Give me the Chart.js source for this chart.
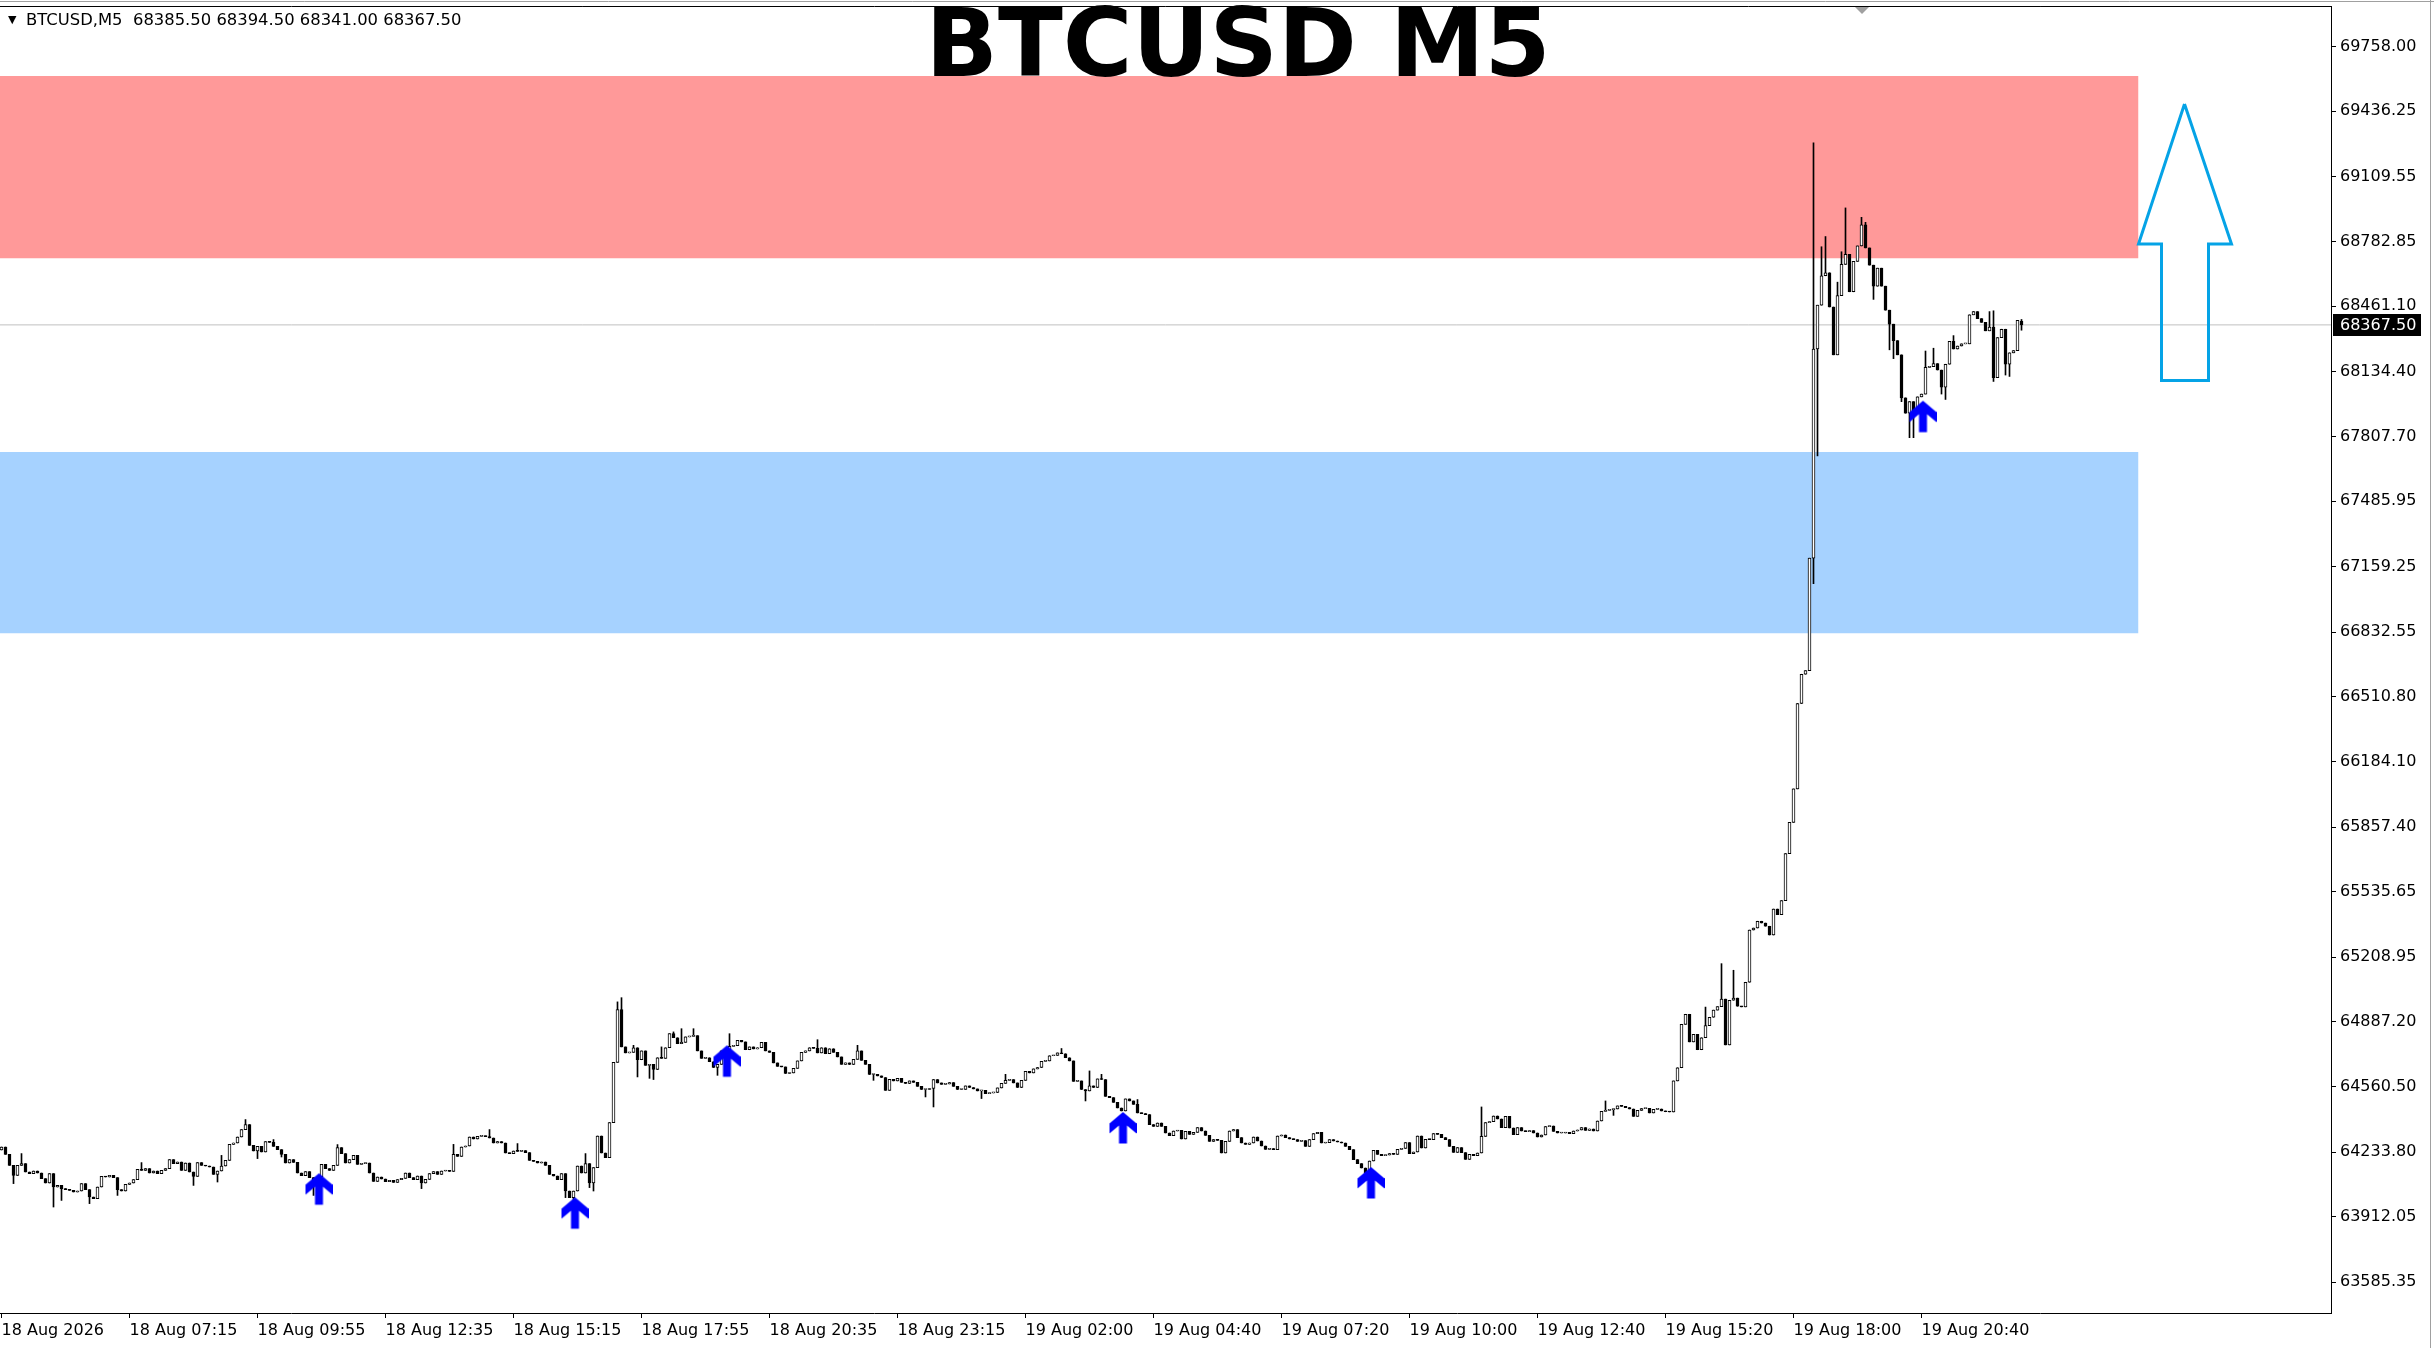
<!DOCTYPE html>
<html>
<head>
<meta charset="utf-8">
<title>BTCUSD M5</title>
<script src="https://cdn.jsdelivr.net/npm/chart.js@4.4.1/dist/chart.umd.min.js"></script>
<style>
  html, body { margin: 0; padding: 0; background: #fff; overflow: hidden; }
  #wrap { width: 2434px; height: 1348px; }
</style>
</head>
<body>
<div id="wrap"><canvas id="chart" width="2434" height="1348"></canvas></div>
<script>
Chart.defaults.font.family = "'DejaVu Sans', Verdana, sans-serif";
Chart.defaults.font.size = 16;
Chart.defaults.color = '#000';

const symbol = 'BTCUSD';
const timeframe = 'M5';

// ---- M5 closes, one per bar (bar 0 = 18 Aug 04:35) ----
const closes = [
  64260,64223,64168,64118,64168,64177,64135,64127,64140,64130,64102,64080,64127,64060,64068,64052,64047,64043,64035,64040,
  64077,64047,64010,64002,64060,64113,64110,64118,64107,64047,64040,64073,64080,64097,64148,64143,64152,64130,64140,64127,
  64143,64152,64197,64177,64185,64143,64180,64135,64113,64182,64168,64165,64160,64123,64140,64165,64193,64273,64280,64310,
  64347,64372,64268,64240,64263,64235,64287,64283,64263,64247,64223,64180,64197,64183,64130,64117,64137,64107,64090,64110,
  64173,64152,64143,64168,64257,64227,64180,64197,64218,64173,64177,64180,64130,64088,64110,64100,64087,64093,64083,64097,
  64103,64130,64107,64097,64115,64080,64098,64127,64137,64123,64140,64143,64138,64223,64213,64260,64265,64310,64300,64313,
  64315,64312,64305,64280,64287,64280,64230,64227,64240,64238,64242,64232,64193,64188,64180,64185,64168,64123,64115,64097,
  64127,64040,64007,64040,64165,64130,64177,64080,64157,64315,64230,64207,64382,64683,64946,64760,64730,64733,64756,64696,
  64740,64668,64673,64647,64706,64703,64756,64826,64806,64776,64783,64810,64813,64816,64740,64703,64706,64686,64657,64673,
  64740,64746,64763,64766,64793,64785,64746,64760,64750,64756,64783,64740,64733,64680,64663,64660,64627,64630,64653,64690,
  64733,64740,64756,64753,64730,64756,64726,64751,64733,64710,64673,64680,64672,64698,64740,64693,64673,64622,64623,64615,
  64607,64543,64598,64590,64603,64583,64577,64590,64583,64563,64547,64547,64552,64597,64580,64573,64575,64582,64563,64547,
  64548,64565,64557,64550,64540,64543,64527,64530,64532,64555,64578,64593,64597,64580,64557,64593,64638,64630,64650,64657,
  64688,64690,64716,64718,64730,64726,64706,64690,64588,64590,64547,64540,64565,64557,64600,64597,64513,64507,64483,64455,
  64440,64500,64490,64473,64430,64427,64422,64372,64363,64380,64363,64330,64317,64340,64343,64300,64338,64323,64333,64357,
  64340,64318,64288,64297,64293,64230,64288,64340,64347,64307,64280,64273,64280,64310,64290,64265,64248,64252,64247,64315,
  64320,64307,64300,64297,64288,64292,64263,64297,64327,64333,64280,64282,64297,64290,64285,64280,64263,64247,64197,64177,
  64155,64130,64190,64243,64223,64217,64220,64227,64223,64248,64253,64282,64227,64235,64315,64255,64298,64297,64327,64323,
  64307,64297,64263,64233,64257,64232,64198,64223,64217,64230,64313,64382,64387,64415,64400,64357,64413,64355,64322,64357,
  64340,64337,64342,64330,64310,64320,64362,64365,64338,64330,64330,64333,64327,64340,64345,64357,64343,64350,64340,64390,
  64438,64443,64447,64450,64465,64463,64457,64450,64413,64443,64452,64453,64430,64448,64450,64440,64436,64435,64590,64656,
  64873,64923,64785,64823,64746,64806,64866,64908,64944,64961,64999,64770,64993,65004,64963,64960,65083,65344,65354,65388,
  65379,65363,65319,65449,65421,65491,65726,65882,66049,66476,66622,66640,67202,68247,68466,68613,68628,68457,68218,68514,
  68670,68720,68533,68685,68762,68867,68752,68666,68561,68651,68561,68441,68371,68289,68218,68003,67926,67984,67932,68008,
  68022,68155,68159,68174,68142,68056,68171,68285,68247,68262,68273,68273,68418,68434,68399,68380,68338,68357,68104,68304,
  68346,68171,68228,68239,68390,68367.5
];
const firstOpen = 64245;
const lastQuote = { open: 68385.50, high: 68394.50, low: 68341.00, close: 68367.50 };

// visible wick extremes [bar, price]
const highWicks = [[5,64227],[35,64182],[55,64218],[61,64397],[68,64297],[84,64272],[113,64273],[122,64347],
  [129,64277],[146,64227],[154,64985],[155,65006],[158,64768],[165,64760],[168,64835],[170,64851],[173,64851],
  [182,64826],[204,64796],[214,64768],[251,64623],[265,64752],[272,64640],[275,64623],[284,64497],[370,64460],
  [401,64490],[426,64959],[430,65176],[433,65143],
  [453,69277],[455,68758],[456,68809],[459,68581],[460,68733],[461,68952],[465,68905],[466,68880],
  [481,68237],[483,68251],[488,68314],[497,68434],[498,68438],[505,68394.5]];
const lowWicks = [[3,64077],[13,63960],[15,63993],[22,63977],[29,64018],[48,64068],[54,64085],[64,64202],
  [70,64210],[78,64018],[79,64060],[105,64052],[141,64007],[143,63993],[147,64057],[148,64040],
  [159,64610],[162,64603],[163,64597],[179,64618],[218,64593],[231,64510],[233,64460],[245,64502],[271,64490],
  [403,64418],[453,67074],[454,67713],[468,68495],[472,68243],[473,68199],
  [475,67984],[477,67804],[478,67804],[485,68022],[486,67995],[498,68085],[501,68117],[502,68110],[505,68341]];

const labelBars = [0, 32, 64, 96, 128, 160, 192, 224, 256, 288, 320, 352, 384, 416, 448, 480];
const timeLabels = ['18 Aug 2026', '18 Aug 07:15', '18 Aug 09:55', '18 Aug 12:35', '18 Aug 15:15', '18 Aug 17:55',
  '18 Aug 20:35', '18 Aug 23:15', '19 Aug 02:00', '19 Aug 04:40', '19 Aug 07:20', '19 Aug 10:00',
  '19 Aug 12:40', '19 Aug 15:20', '19 Aug 18:00', '19 Aug 20:40'];
const priceTicks = [69758.00, 69436.25, 69109.55, 68782.85, 68461.10, 68134.40, 67807.70, 67485.95, 67159.25, 66832.55,
  66510.80, 66184.10, 65857.40, 65535.65, 65208.95, 64887.20, 64560.50, 64233.80, 63912.05, 63585.35];

// buy signals (arrow tip at bar / price)
const signalBars = [79, 143, 181, 280, 342, 480];
const signalPrices = [64129, 64009, 64768, 64435, 64160, 67989];

// zones [top, bottom] and where they stop
const supplyZone = [69611, 68701];
const demandZone = [67732, 66827];
const zoneEndBar = 534.25;

// big outlined arrow object
const bigArrowBars = [545.75, 534.25, 540, 540, 551.75, 551.75, 557.5, 545.75];
const bigArrowPrices = [69471, 68772, 68772, 68090, 68090, 68772, 68772, 69471];

const xRange = [-0.375, 582.375];
const yRange = [63430.5, 69960.9];

// ---- candles ----
const opens = closes.map((c, i) => i === 0 ? firstOpen : closes[i - 1]);
opens[opens.length - 1] = lastQuote.open;
const highs = closes.map((c, i) => Math.max(c, opens[i]));
const lows = closes.map((c, i) => Math.min(c, opens[i]));
highWicks.forEach(([i, v]) => { highs[i] = Math.max(highs[i], v); });
lowWicks.forEach(([i, v]) => { lows[i] = Math.min(lows[i], v); });

const bodies = closes.map((c, i) => ({ x: i, y: [opens[i], c] }));
const bodyFill = closes.map((c, i) => c >= opens[i] ? '#FFFFFF' : '#000000');
const wicks = closes.map((c, i) => ({ x: i, y: [lows[i], highs[i]] }));

// wingdings-style up arrow glyph, tip at the image centre (nudged 1.5px right like MT4)
function signalArrow() {
  const c = document.createElement('canvas');
  c.width = 30; c.height = 70;
  const g = c.getContext('2d');
  g.translate(16.5, 35);
  g.fillStyle = '#0000FF';
  g.beginPath();
  g.moveTo(0, 0); g.lineTo(13.5, 11.5); g.lineTo(13.5, 21.5); g.lineTo(4, 13.5); g.lineTo(4, 31.5);
  g.lineTo(-4, 31.5); g.lineTo(-4, 13.5); g.lineTo(-13.5, 21.5); g.lineTo(-13.5, 11.5);
  g.closePath();
  g.fill();
  return c;
}

function zoneDataset(zone, color) {
  return {
    type: 'line',
    data: [{ x: xRange[0], y: zone[0] }, { x: zoneEndBar, y: zone[0] }],
    borderWidth: 0,
    pointRadius: 0,
    backgroundColor: color,
    fill: { value: zone[1] },
    order: 10
  };
}

// ---- chrome: frame, title, quote line, last price box ----
const decor = {
  id: 'decor',
  beforeDraw(chart) {
    const { ctx, width, height } = chart;
    ctx.save();
    ctx.fillStyle = '#FFFFFF';
    ctx.fillRect(0, 0, width, height);
    ctx.restore();
  },
  afterDraw(chart) {
    const { ctx, chartArea: a, scales: { y } } = chart;
    ctx.save();
    // frame
    ctx.strokeStyle = '#000';
    ctx.lineWidth = 1;
    ctx.beginPath();
    ctx.moveTo(0, a.top + 0.5);
    ctx.lineTo(a.right + 0.5, a.top + 0.5);
    ctx.lineTo(a.right + 0.5, a.bottom + 0.5);
    ctx.stroke();
    // window edges
    ctx.strokeStyle = '#A0A0A0';
    ctx.beginPath();
    ctx.moveTo(0, 1.5); ctx.lineTo(chart.width, 1.5);
    ctx.moveTo(chart.width - 3.5, 0); ctx.lineTo(chart.width - 3.5, chart.height);
    ctx.stroke();
    // chart shift marker
    ctx.fillStyle = '#A0A0A0';
    ctx.beginPath();
    ctx.moveTo(1855, a.top + 1); ctx.lineTo(1869, a.top + 1); ctx.lineTo(1862, a.top + 8);
    ctx.closePath(); ctx.fill();

    // title
    ctx.fillStyle = '#000';
    ctx.font = "bold 95px 'DejaVu Sans', sans-serif";
    ctx.textAlign = 'center';
    ctx.textBaseline = 'alphabetic';
    ctx.fillText(`${symbol} ${timeframe}`, 1238, 76);

    // quote line
    ctx.textAlign = 'left';
    ctx.textBaseline = 'middle';
    ctx.font = "11px 'DejaVu Sans', sans-serif";
    ctx.fillText('\u25BC', 8, 20);
    ctx.font = "16.4px 'DejaVu Sans', sans-serif";
    const q = [lastQuote.open, lastQuote.high, lastQuote.low, lastQuote.close].map(v => v.toFixed(2)).join(' ');
    ctx.fillText(`${symbol},${timeframe}  ${q}`, 26, 21);

    // last price box on the axis
    const py = Math.round(y.getPixelForValue(lastQuote.close));
    ctx.font = "16px 'DejaVu Sans', sans-serif";
    ctx.fillStyle = '#000';
    ctx.fillRect(a.right + 2, py - 11, 88, 22);
    ctx.fillStyle = '#FFF';
    ctx.fillText(lastQuote.close.toFixed(2), a.right + 9, py + 1);
    ctx.restore();
  }
};

new Chart(document.getElementById('chart'), {
  type: 'bar',
  data: {
    datasets: [
      zoneDataset(supplyZone, '#FF9999'),
      zoneDataset(demandZone, '#A6D2FF'),
      {
        type: 'line',
        data: [{ x: xRange[0], y: lastQuote.close }, { x: xRange[1], y: lastQuote.close }],
        borderColor: '#C0C0C0',
        borderWidth: 1,
        pointRadius: 0,
        fill: false,
        order: 9
      },
      {
        type: 'bar',
        data: wicks,
        backgroundColor: '#000',
        barThickness: 1,
        grouped: false,
        borderWidth: 0,
        order: 5
      },
      {
        type: 'bar',
        data: bodies,
        backgroundColor: bodyFill,
        borderColor: '#000',
        borderWidth: 1,
        borderSkipped: false,
        barThickness: 3,
        minBarLength: 1,
        grouped: false,
        order: 4
      },
      {
        type: 'line',
        data: bigArrowBars.map((b, i) => ({ x: b, y: bigArrowPrices[i] })),
        borderColor: '#05A3E6',
        borderWidth: 3,
        borderJoinStyle: 'miter',
        pointRadius: 0,
        tension: 0,
        fill: false,
        order: 2
      },
      {
        type: 'line',
        data: signalBars.map((b, i) => ({ x: b, y: signalPrices[i] })),
        showLine: false,
        pointStyle: signalArrow(),
        pointRadius: 5,
        order: 1
      }
    ]
  },
  options: {
    responsive: false,
    devicePixelRatio: 1,
    animation: false,
    events: [],
    layout: { autoPadding: false, padding: { top: 6, left: 0, right: 0, bottom: 0 } },
    plugins: { legend: { display: false }, tooltip: { enabled: false } },
    scales: {
      x: {
        type: 'linear',
        min: xRange[0],
        max: xRange[1],
        offset: false,
        grid: { drawOnChartArea: false, drawTicks: true, tickLength: 5, color: '#000', offset: false },
        border: { display: true, color: '#000' },
        ticks: {
          autoSkip: false, maxRotation: 0, align: 'start', padding: 3, color: '#000',
          callback: v => timeLabels[labelBars.indexOf(v)]
        },
        afterBuildTicks: s => { s.ticks = labelBars.map(v => ({ value: v })); },
        afterFit: s => { s.height = 35; s.paddingLeft = 0; s.paddingRight = 0; }
      },
      y: {
        type: 'linear',
        position: 'right',
        min: yRange[0],
        max: yRange[1],
        beginAtZero: false,
        grid: { drawOnChartArea: false, drawTicks: true, tickLength: 5, color: '#000' },
        border: { display: true, color: '#000' },
        ticks: { padding: 4, color: '#000', callback: v => Number(v).toFixed(2) },
        afterBuildTicks: s => { s.ticks = priceTicks.map(v => ({ value: v })); },
        afterFit: s => { s.width = 103; s.paddingTop = 0; s.paddingBottom = 0; }
      }
    }
  },
  plugins: [decor]
});
</script>
</body>
</html>
